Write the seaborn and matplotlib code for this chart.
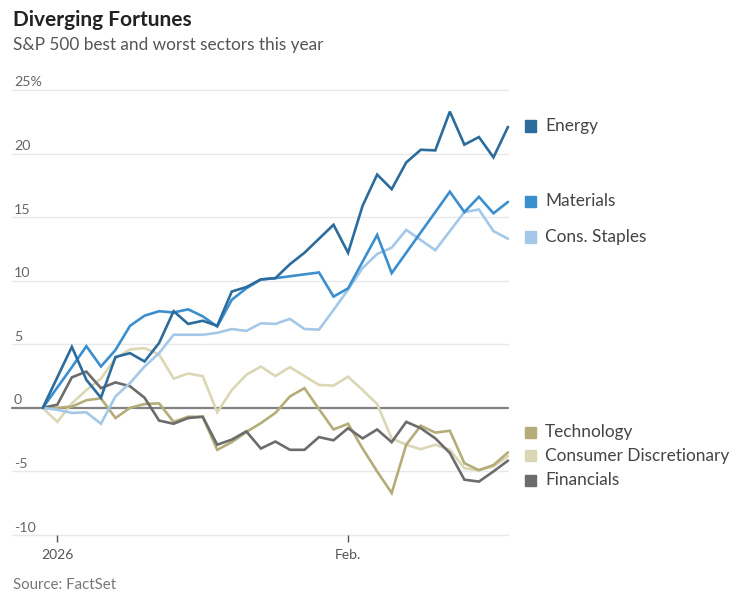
import matplotlib
matplotlib.use("Agg")
import matplotlib.pyplot as plt
import matplotlib.transforms as mtransforms
from matplotlib.patches import Rectangle
import numpy as np
import pandas as pd
import seaborn as sns

# ---------------- data ----------------
dates = pd.bdate_range("2025-12-31", "2026-02-18", freq="C",
                       holidays=["2026-01-01", "2026-01-19", "2026-02-16"])

energy = [0, 2.4, 4.8, 2.2, 0.8, 4.0, 4.3, 3.65, 5.1, 7.6, 6.6, 6.85, 6.45, 9.15,
          9.5, 10.1, 10.2, 11.3, 12.2, 13.3, 14.4, 12.2, 15.9, 18.35, 17.2, 19.3,
          20.3, 20.25, 23.3, 20.7, 21.3, 19.7, 22.1]
materials = [0, 1.6, 3.2, 4.85, 3.25, 4.55, 6.45, 7.25, 7.6, 7.5, 7.75, 7.2, 6.4,
             8.5, 9.4, 10.1, 10.2, 10.35, 10.5, 10.65, 8.75, 9.4, 11.5, 13.6, 10.6,
             12.2, 13.8, 15.4, 17.0, 15.4, 16.6, 15.3, 16.2]
staples = [0, -0.15, -0.4, -0.35, -1.25, 0.9, 1.95, 3.25, 4.3, 5.75, 5.75, 5.75,
           5.9, 6.2, 6.05, 6.65, 6.6, 7.0, 6.2, 6.15, 7.7, 9.3, 11.0, 12.1, 12.6,
           14.0, 13.2, 12.4, 13.9, 15.4, 15.6, 13.9, 13.3]
technology = [0, 0.0, 0.1, 0.6, 0.75, -0.8, 0.0, 0.3, 0.35, -1.1, -0.7, -0.7, -3.3,
              -2.7, -1.9, -1.2, -0.4, 0.9, 1.55, -0.1, -1.7, -1.25, -3.2, -5.0,
              -6.7, -2.9, -1.4, -1.95, -1.8, -4.35, -4.9, -4.5, -3.5]
discretionary = [0, -1.1, 0.35, 1.4, 2.3, 3.9, 4.6, 4.7, 4.2, 2.3, 2.7, 2.5, -0.35,
                 1.4, 2.6, 3.25, 2.5, 3.2, 2.5, 1.8, 1.75, 2.45, 1.4, 0.3, -2.4,
                 -2.9, -3.25, -2.9, -3.3, -4.75, -4.9, -4.6, -3.8]
financials = [0, 0.25, 2.4, 2.85, 1.55, 2.0, 1.7, 0.8, -1.0, -1.25, -0.8, -0.7,
              -2.9, -2.5, -1.85, -3.2, -2.65, -3.3, -3.3, -2.3, -2.55, -1.6, -2.4,
              -1.7, -2.7, -1.1, -1.6, -2.4, -3.55, -5.65, -5.8, -5.0, -4.15]

sectors = ["Consumer Discretionary", "Technology", "Financials",
           "Cons. Staples", "Materials", "Energy"]
series = [discretionary, technology, financials, staples, materials, energy]

legend_order = ["Energy", "Materials", "Cons. Staples",
                "Technology", "Consumer Discretionary", "Financials"]

y_ticks = [25, 20, 15, 10, 5, 0, -5, -10]
y_ticklabels = ["25%", "20", "15", "10", "5", "0", "-5", "-10"]
x_ticklabels = ["2026", "Feb."]

colors = {
    "Energy": "#2c6c9c",
    "Materials": "#3b8fcf",
    "Cons. Staples": "#a4c8e7",
    "Technology": "#b5ad79",
    "Consumer Discretionary": "#dbd7b5",
    "Financials": "#6c6c6c",
}

# ---------------- frame ----------------
rows = []
for name, vals in zip(sectors, series):
    for i, (d, v) in enumerate(zip(dates, vals)):
        rows.append({"idx": i, "date": d, "sector": name, "value": v})
df = pd.DataFrame(rows)

sns.set_theme(style="white")
plt.rcParams["font.family"] = ["Lato", "DejaVu Sans"]

W, H = 750, 604
fig = plt.figure(figsize=(W / 100, H / 100), dpi=100)
ax_left, ax_right, ax_top, ax_bottom = 12, 508, 90, 535
ax = fig.add_axes([ax_left / W, 1 - ax_bottom / H,
                   (ax_right - ax_left) / W, (ax_bottom - ax_top) / H])

# gridlines
for v in y_ticks:
    if v == 0:
        continue
    ax.axhline(v, color="#e8e8e8", lw=1.0, zorder=0, clip_on=False)
ax.axhline(0, color="#828282", lw=1.6, zorder=1, clip_on=False)

sns.lineplot(data=df, x="idx", y="value", hue="sector", hue_order=sectors,
             palette=colors, linewidth=1.9, legend=False, ax=ax, zorder=3)
for ln in ax.get_lines():
    ln.set_clip_on(False)
    ln.set_solid_joinstyle("miter")

n = len(dates)
x0_px, step_px = 42.8, 14.55
ax.set_xlim(-(x0_px - ax_left) / step_px, n - 1)
ax.set_ylim(-10, 25)

for s in ax.spines.values():
    s.set_visible(False)

# x ticks: first trading day of each month
months = pd.Series(dates).dt.to_period("M")
tick_pos = [i for i in range(n) if i > 0 and months[i] != months[i - 1]]
ax.set_xticks(tick_pos)
ax.set_xticklabels(x_ticklabels, fontsize=10, color="#555555")
ax.tick_params(axis="x", direction="out", length=5, width=1, color="#555555",
               pad=5, bottom=True)
ax.set_yticks([])
ax.set_xlabel("")
ax.set_ylabel("")

# y tick labels above gridlines
trans = mtransforms.blended_transform_factory(ax.transAxes, ax.transData)
off = mtransforms.ScaledTranslation(2 / 100, 1.5 / 100, fig.dpi_scale_trans)
for v, lab in zip(y_ticks, y_ticklabels):
    ax.text(0, v, lab, transform=trans + off, ha="left", va="bottom",
            fontsize=10.3, color="#666666")

# legend labels at right
label_px_y = [126, 201, 237, 432, 455.5, 480]
for name, yp in zip(legend_order, label_px_y):
    fig.patches.append(Rectangle((525 / W, 1 - (yp + 5.5) / H), 11 / W, 11 / H,
                                 transform=fig.transFigure, color=colors[name]))
    fig.text(545 / W, 1 - yp / H, name, ha="left", va="center",
             fontsize=12.4, color="#444444")

# titles
fig.text(13 / W, 1 - 20 / H, "Diverging Fortunes", ha="left", va="center",
         fontsize=15, fontweight="bold", color="#222222")
fig.text(13 / W, 1 - 45 / H, "S&P 500 best and worst sectors this year",
         ha="left", va="center", fontsize=12.4, color="#555555")
fig.text(13 / W, 1 - 585 / H, "Source: FactSet", ha="left", va="center",
         fontsize=10.8, color="#777777")

fig.savefig("out.png", dpi=100)
